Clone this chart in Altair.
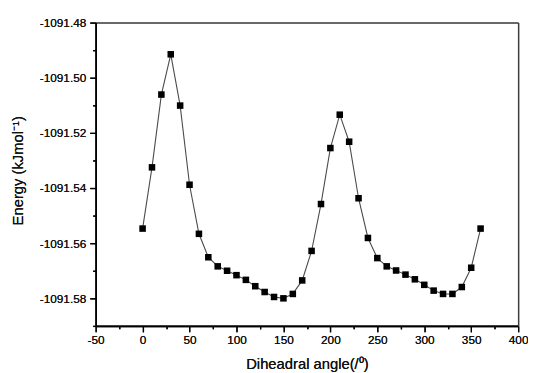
import altair as alt
import pandas as pd

angles = list(range(0, 361, 10))
energies = [
    -1091.5547, -1091.5325, -1091.5061, -1091.4915, -1091.5101, -1091.5388,
    -1091.5566, -1091.5651, -1091.5684, -1091.5700, -1091.5716, -1091.5733,
    -1091.5756, -1091.5777, -1091.5795, -1091.5800, -1091.5784, -1091.5735,
    -1091.5628, -1091.5458, -1091.5255, -1091.5134, -1091.5232, -1091.5437,
    -1091.5581, -1091.5654, -1091.5684, -1091.5699, -1091.5714, -1091.5731,
    -1091.5751, -1091.5772, -1091.5784, -1091.5784, -1091.5759, -1091.5689,
    -1091.5547,
]
x_ticks = list(range(-50, 401, 25))
y_ticks = [-1091.48, -1091.49, -1091.50, -1091.51, -1091.52, -1091.53,
           -1091.54, -1091.55, -1091.56, -1091.57, -1091.58, -1091.59]

df = pd.DataFrame({"angle": angles, "energy": energies})

xscale = alt.Scale(domain=[-50, 400], nice=False, zero=False)
yscale = alt.Scale(domain=[-1091.59, -1091.48], nice=False, zero=False)

FONT = "Liberation Sans"
DARK = "#000000"
FRAME = "#3c3c3c"

x_major_test = "datum.value % 50 === 0"
y_major_test = "round(datum.value * 100) % 2 === 0"

x_axis = alt.Axis(
    orient="bottom", values=x_ticks, title="Diheadral angle(/⁰)",
    labelFontSize=12, labelFont=FONT, labelColor="#111",
    tickSize={"condition": {"test": x_major_test, "value": 6}, "value": 3},
    tickColor=DARK, labelPadding=3, grid=False, titleFontSize=15, titleFont=FONT,
    titleFontWeight="normal", titleColor="#111", titleY=43, titleBaseline="alphabetic",
    labelExpr="datum.value % 50 === 0 ? replace(format(datum.value, 'd'), '\u2212', '-') : ''",
    labelFlush=False, domainColor=DARK, domainWidth=1.6, tickWidth=1.3,
)
y_axis = alt.Axis(
    orient="left", values=y_ticks, title="Energy (kJmol⁻¹)",
    labelFontSize=12, labelFont=FONT, labelColor="#111",
    tickSize={"condition": {"test": y_major_test, "value": 6}, "value": 3},
    tickColor=DARK, labelPadding=4, grid=False, titleFontSize=15, titleFont=FONT,
    titleFontWeight="normal", titleColor="#111", titleX=-71, titleY=150,
    titleAngle=270, titleBaseline="bottom", titleAlign="center",
    labelExpr="round(datum.value * 100) % 2 === 0 ? replace(format(datum.value, '.2f'), '\u2212', '-') : ''",
    labelFlush=False, domainColor=DARK, domainWidth=1.6, tickWidth=1.3,
)
x_top_axis = alt.Axis(
    orient="top", title=None, labels=False, ticks=False, grid=False,
    domainColor=FRAME, domainWidth=1.5,
)
y_right_axis = alt.Axis(
    orient="right", title=None, labels=False, ticks=False, grid=False,
    domainColor=FRAME, domainWidth=1.5,
)

base = alt.Chart(df)

line = base.mark_line(color="#4a4a4a", strokeWidth=1.1).encode(
    x=alt.X("angle:Q", scale=xscale, axis=x_axis),
    y=alt.Y("energy:Q", scale=yscale, axis=y_axis),
)
pts = base.mark_square(size=44, color="black", opacity=1).encode(
    x=alt.X("angle:Q", scale=xscale, axis=x_axis),
    y=alt.Y("energy:Q", scale=yscale, axis=y_axis),
)
frame = base.mark_point(opacity=0).encode(
    x=alt.X("angle:Q", scale=xscale, axis=x_top_axis),
    y=alt.Y("energy:Q", scale=yscale, axis=y_right_axis),
)

chart = (
    alt.layer(line, frame, pts)
    .resolve_axis(x="independent", y="independent")
    .properties(
        width=429, height=308,
        autosize=alt.AutoSizeParams(type="none"),
        padding={"left": 89, "top": 12, "right": 10, "bottom": 45},
    )
    .configure_view(stroke="transparent")
    .configure(background="white")
)

chart.save("out.html", embed_options={"renderer": "svg", "actions": False})
